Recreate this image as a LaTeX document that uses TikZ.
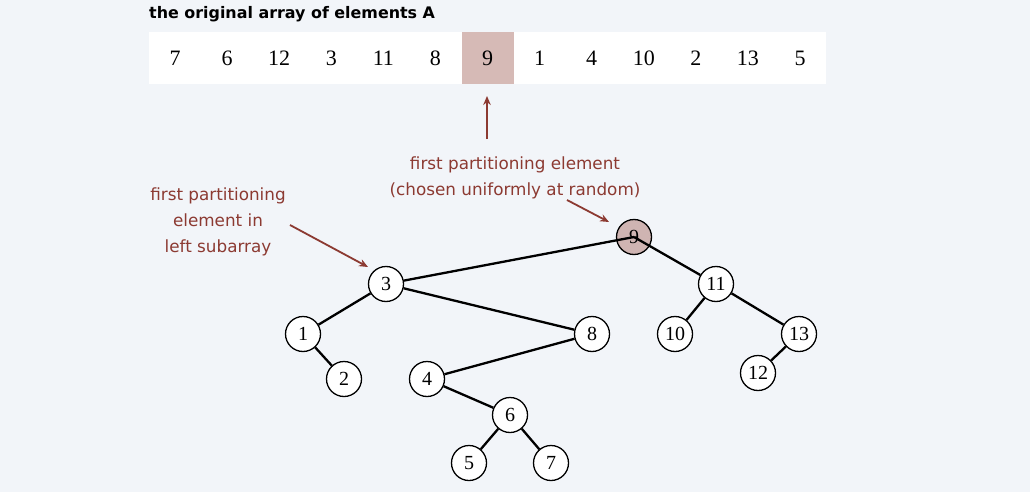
\documentclass[tikz,border=0pt]{standalone}
\usepackage{fontspec}
\setmainfont{Liberation Serif}
\setsansfont{DejaVu Sans}
\usetikzlibrary{arrows.meta}
\definecolor{bg}{RGB}{242,245,249}
\definecolor{anno}{RGB}{140,58,50}
\definecolor{hl}{RGB}{214,186,182}
\definecolor{hlnode}{RGB}{207,180,178}
\begin{document}
\begin{tikzpicture}[x=1pt,y=-1pt,
  tnode/.style={circle,draw=black,line width=1.3pt,fill=white,minimum size=35pt,inner sep=0pt,font=\fontsize{20}{20}\selectfont},
  edge/.style={line width=2.3pt,black},
  annotext/.style={text=anno,font=\sffamily\fontsize{16.8}{26}\selectfont,align=center},
  annoarrow/.style={anno,line width=1.8pt,-{Stealth[length=9pt,width=7.5pt]}},
  cellnum/.style={font=\fontsize{22}{22}\selectfont,anchor=center}]
\fill[bg] (0,0) rectangle (1030,492);
\useasboundingbox (0,0) rectangle (1030,492);
% title
\node[anchor=base west,inner sep=0pt,font=\sffamily\bfseries\fontsize{15.9}{16}\selectfont] (title) at (149,19) {the original array of elements A};
% array
\fill[white] (149,32) rectangle (826,84);
\fill[hl] (461.6,32) rectangle (513.7,84);
\foreach \v [count=\i from 0] in {7,6,12,3,11,8,9,1,4,10,2,13,5}{
  \node[cellnum] (c\i) at ({149+52.08*\i+26.04},58) {\v};
}
\coordinate (arrtail) at (487,139);
\coordinate (arrhead) at (487,96);
\draw[annoarrow] (arrtail) -- (arrhead);
% annotations
\node[annotext] (a1) at (515,177.5) {first partitioning element\\(chosen uniformly at random)};
\node[annotext] (a2) at (218,222) {first partitioning\\element in\\left subarray};
% tree
\node[tnode,fill=hlnode] (n9) at (634,237) {9};
\node[tnode] (n3) at (386,284) {3};
\node[tnode] (n11) at (716,284) {11};
\node[tnode] (n1) at (303,334) {1};
\node[tnode] (n8) at (592,334) {8};
\node[tnode] (n10) at (675,334) {10};
\node[tnode] (n13) at (799,334) {13};
\node[tnode] (n2) at (344,379) {2};
\node[tnode] (n4) at (427,379) {4};
\node[tnode] (n12) at (758,373) {12};
\node[tnode] (n6) at (510,415) {6};
\node[tnode] (n5) at (469,463) {5};
\node[tnode] (n7) at (551,463) {7};
\draw[edge] (n9.center) -- (n3);
\draw[edge] (n9.center) -- (n11);
\draw[edge] (n3) -- (n1);
\draw[edge] (n3) -- (n8);
\draw[edge] (n1) -- (n2);
\draw[edge] (n8) -- (n4);
\draw[edge] (n4) -- (n6);
\draw[edge] (n6) -- (n5);
\draw[edge] (n6) -- (n7);
\draw[edge] (n11) -- (n10);
\draw[edge] (n11) -- (n13);
\draw[edge] (n13) -- (n12);
\coordinate (t1) at (567,200);
\coordinate (h1) at (609,222);
\draw[annoarrow] (t1) -- (h1);
\coordinate (t2) at (290,225);
\coordinate (h2) at (368,267);
\draw[annoarrow] (t2) -- (h2);
\end{tikzpicture}
\end{document}
